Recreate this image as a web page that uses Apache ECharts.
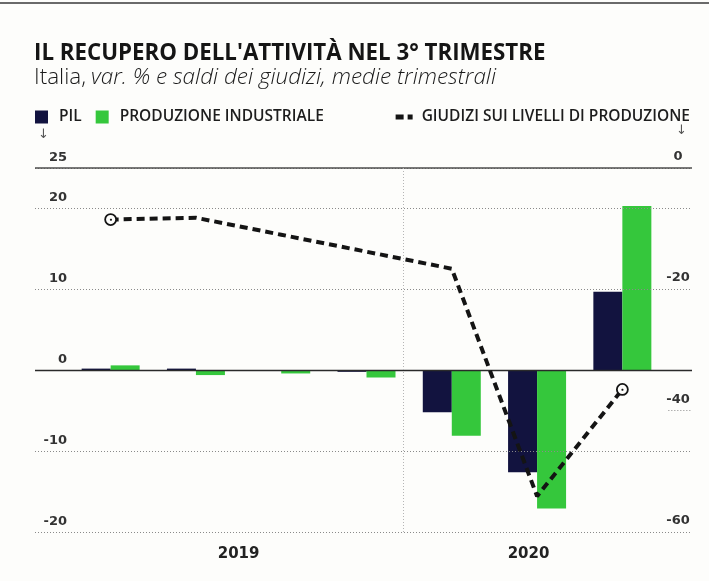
<!DOCTYPE html>
<html>
<head>
<meta charset="utf-8">
<script src="https://cdn.jsdelivr.net/npm/echarts@6/dist/echarts.min.js"></script>
<style>
html,body{margin:0;padding:0;background:#fdfdfb;}
#main{width:709px;height:581px;}
</style>
</head>
<body>
<div id="main"></div>
<script>
// ---- data ----
const titleText = "IL RECUPERO DELL'ATTIVITÀ NEL 3° TRIMESTRE";
const subtitleNormal = "Italia,";
const subtitleItalic = "var. % e saldi dei giudizi, medie trimestrali";
const categories = ['I 2019', 'II 2019', 'III 2019', 'IV 2019', 'I 2020', 'II 2020', 'III 2020'];
const seriesNames = ['PIL', 'PRODUZIONE INDUSTRIALE', 'GIUDIZI SUI LIVELLI DI PRODUZIONE'];
const pil = [0.2, 0.2, 0.0, -0.2, -5.2, -12.6, 9.7];
const produzione = [0.6, -0.6, -0.4, -0.9, -8.1, -17.1, 20.3];
const giudizi = [-8.5, -8.2, -11.0, -13.8, -16.6, -54.1, -36.5];
const markedPoints = [0, 6];
const leftAxis = { min: -20, max: 25, interval: 10 };
const rightAxis = { min: -60, max: 0, interval: 20 };
const years = ['2019', '2020'];
const yearPositions = [1.5, 4.9];

// ---- styles ----
const C_PIL = '#12133f';
const C_PROD = '#35c73c';
const C_LINE = '#141414';
const numFont = 'DejaVu Sans';
const txtFont = 'Open Sans';
const TOP = 168, BOTTOM = 49;

const chart = echarts.init(document.getElementById('main'), null, { renderer: 'canvas' });

const lineData = giudizi.map((v, i) => {
  if (markedPoints.indexOf(i) >= 0) {
    return {
      value: v, symbol: 'circle', symbolSize: 11,
      itemStyle: { color: '#fdfdfb', borderColor: C_LINE, borderWidth: 1.8 },
      label: { show: true, position: 'inside', formatter: '●', fontSize: 5, color: C_LINE, offset: [0, 0.5] }
    };
  }
  return { value: v, symbol: 'none' };
});

chart.setOption({
  backgroundColor: '#fdfdfb',
  animation: false,
  title: [
    { text: titleText, left: 34, top: 43, padding: 0,
      textStyle: { fontFamily: txtFont, fontWeight: 'bold', fontSize: 22.3, color: '#151515' } },
    { text: '{n|' + subtitleNormal + '} {i|' + subtitleItalic + '}', left: 34, top: 66, padding: 0,
      textStyle: { rich: {
        n: { fontFamily: txtFont, fontWeight: 300, fontSize: 22.5, color: '#1a1a1a' },
        i: { fontFamily: txtFont, fontWeight: 300, fontStyle: 'italic', fontSize: 22.5, color: '#1a1a1a' }
      } } }
  ],
  legend: [
    { data: [seriesNames[0], seriesNames[1]], left: 35, top: 109, padding: 0,
      icon: 'rect', itemWidth: 13, itemHeight: 13, itemGap: 14, selectedMode: false,
      textStyle: { fontFamily: txtFont, fontWeight: 600, fontSize: 15.5, color: '#1d1d1d', padding: [0, 0, 0, 6] } },
    { data: [{ name: seriesNames[2], icon: 'path://M0,0H8V5H0Z M12,0H17V5H12Z' }], right: 19, top: 109, padding: 0,
      itemWidth: 17, itemHeight: 5, selectedMode: false,
      textStyle: { fontFamily: txtFont, fontWeight: 600, fontSize: 15.5, color: '#1d1d1d', padding: [0, 0, 0, 4] } }
  ],
  graphic: [
    { type: 'line', shape: { x1: 0, y1: 3, x2: 709, y2: 3 }, style: { stroke: '#6a6a6a', lineWidth: 2 } },
    { type: 'text', left: 38, top: 128, style: { text: '↓', font: '13px DejaVu Sans', fill: '#555' } },
    { type: 'text', left: 676, top: 124, style: { text: '↓', font: '13px DejaVu Sans', fill: '#555' } }
  ],
  grid: [
    { left: 68, right: 44, top: TOP, bottom: BOTTOM },
    { left: 35, right: 17, top: TOP, bottom: BOTTOM }
  ],
  xAxis: [
    { type: 'category', gridIndex: 0, data: categories,
      axisLine: { show: false }, axisTick: { show: false }, axisLabel: { show: false }, splitLine: { show: false } },
    { type: 'value', gridIndex: 1, min: 0, max: 100, show: false },
    { type: 'value', gridIndex: 0, min: -0.5, max: categories.length - 0.5, position: 'bottom',
      axisLine: { show: false }, axisTick: { show: false }, splitLine: { show: false },
      axisLabel: { customValues: yearPositions, margin: 15,
        formatter: (v) => { const k = yearPositions.indexOf(v); return k >= 0 ? years[k] : ''; },
        fontFamily: numFont, fontWeight: 'bold', fontSize: 15, color: '#222' } }
  ],
  yAxis: [
    { type: 'value', gridIndex: 0, position: 'left', min: leftAxis.min, max: leftAxis.max, interval: leftAxis.interval,
      axisLine: { show: false }, axisTick: { show: false }, splitLine: { show: false },
      axisLabel: { margin: 1, verticalAlign: 'bottom', padding: [0, 0, 4, 0],
        fontFamily: numFont, fontWeight: 'bold', fontSize: 13, color: '#333' } },
    { type: 'value', gridIndex: 0, position: 'right', min: rightAxis.min, max: rightAxis.max, interval: rightAxis.interval,
      axisLine: { show: false }, axisTick: { show: false }, splitLine: { show: false },
      axisLabel: { margin: 13, align: 'center', verticalAlign: 'bottom', padding: [0, 0, 5, 0],
        fontFamily: numFont, fontWeight: 'bold', fontSize: 13, color: '#333' } },
    { type: 'value', gridIndex: 1, min: leftAxis.min, max: leftAxis.max, interval: leftAxis.interval, z: 5,
      axisLine: { show: false }, axisTick: { show: false }, axisLabel: { show: false },
      splitLine: { show: true, lineStyle: { color: '#8a8a8a', width: 1, type: [1, 2] } } },
    { type: 'value', gridIndex: 1, min: rightAxis.min, max: rightAxis.max, interval: rightAxis.interval,
      show: false, splitLine: { show: false } }
  ],
  series: [
    { type: 'line', xAxisIndex: 1, yAxisIndex: 2, data: [], z: 6, silent: true,
      markLine: { silent: true, symbol: 'none', label: { show: false },
        data: [
          { yAxis: leftAxis.max, lineStyle: { color: '#4d4d4d', width: 1.6, type: 'solid' } },
          { yAxis: 0, lineStyle: { color: '#2a2a2a', width: 1.4, type: 'solid' } },
          { xAxis: 56, lineStyle: { color: '#b5b5b5', width: 1, type: [1, 2] } }
        ] } },
    { type: 'line', xAxisIndex: 1, yAxisIndex: 3, data: [], z: 6, silent: true,
      markLine: { silent: true, symbol: 'none', label: { show: false },
        data: [[{ coord: [96.4, -40] }, { coord: [100, -40] }]],
        lineStyle: { color: '#8a8a8a', width: 1, type: [1, 2] } } },
    { name: seriesNames[0], type: 'bar', xAxisIndex: 0, yAxisIndex: 0, data: pil,
      barWidth: 29, barGap: '0%', itemStyle: { color: C_PIL }, z: 2 },
    { name: seriesNames[1], type: 'bar', xAxisIndex: 0, yAxisIndex: 0, data: produzione,
      barWidth: 29, barGap: '0%', itemStyle: { color: C_PROD }, z: 2 },
    { name: seriesNames[2], type: 'line', xAxisIndex: 0, yAxisIndex: 1, data: lineData, z: 10,
      itemStyle: { color: C_LINE },
      lineStyle: { color: C_LINE, width: 4, type: [8, 5] } }
  ]
});
</script>
</body>
</html>
